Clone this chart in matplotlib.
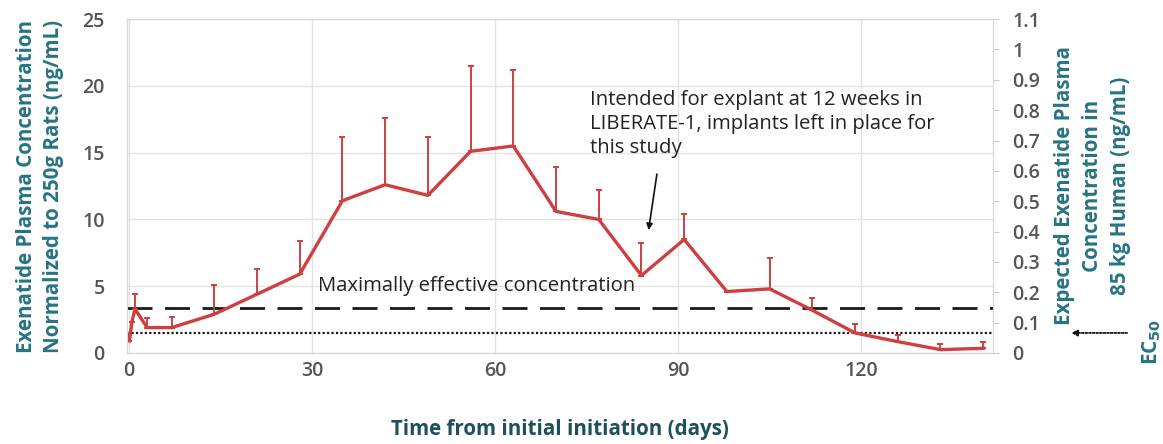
import matplotlib
matplotlib.use("Agg")
import matplotlib.pyplot as plt

plt.rcParams['font.family'] = ['Open Sans', 'DejaVu Sans']

days = [0.1, 0.5, 1, 3, 7, 14, 21, 28, 35, 42, 49, 56, 63, 70, 77, 84, 91, 98, 105, 112, 119, 126, 133, 140]
conc = [0.9, 2.3, 3.3, 1.9, 1.9, 2.9, 4.4, 5.9, 11.4, 12.6, 11.8, 15.1, 15.5, 10.6, 10.0, 5.8, 8.5, 4.6, 4.8, 3.2, 1.5, 0.85, 0.25, 0.35]
err_up = [0.6, 0.0, 1.1, 0.7, 0.8, 2.2, 1.9, 2.5, 4.8, 5.0, 4.4, 6.4, 5.7, 3.3, 2.2, 2.4, 1.9, 0.0, 2.3, 0.9, 0.7, 0.5, 0.45, 0.45]

max_effective = 3.4
ec50 = 1.5

x_ticks = [0, 30, 60, 90, 120]
y_ticks = [0, 5, 10, 15, 20, 25]
y2_ticks = [0, 0.1, 0.2, 0.3, 0.4, 0.5, 0.6, 0.7, 0.8, 0.9, 1.0, 1.1]
y2_labels = ['0', '0.1', '0.2', '0.3', '0.4', '0.5', '0.6', '0.7', '0.8', '0.9', '1', '1.1']

red = '#cf3f3f'
teal = '#267383'
dark_teal = '#1d4f5c'
gray = '#555555'

fs_tick = 14
fs_lab = 14.8
fs_txt = 14.6

fig = plt.figure(figsize=(11.63, 4.44), dpi=100)
ax = fig.add_axes([0.1092, 0.205, 0.7446, 0.752])

ax.set_xlim(-0.3, 141.6)
ax.set_ylim(0, 25)
ax.set_xticks(x_ticks)
ax.set_yticks(y_ticks)
ax.grid(True, color='#e3e3e3', linewidth=1.0)
ax.set_axisbelow(True)
for s in ax.spines.values():
    s.set_color('#d8d8d8')
ax.tick_params(axis='x', length=0, labelsize=fs_tick, labelcolor=gray, pad=6)
ax.tick_params(axis='y', length=0, labelsize=fs_tick, labelcolor=gray, pad=16)
for lab in ax.get_xticklabels() + ax.get_yticklabels():
    lab.set_fontweight('semibold')

ax.axhline(max_effective, color='#1a1a1a', lw=2.0, dashes=(9, 4.5), zorder=3)
ax.axhline(ec50, color='#1a1a1a', lw=1.6, linestyle=(0, (1, 1)), zorder=3)

ax.errorbar(days, conc, yerr=[[0] * len(err_up), err_up], color=red, lw=2.4,
            elinewidth=1.4, capsize=2.5, capthick=1.4, zorder=4)

ax.text(31, 4.3, 'Maximally effective concentration', fontsize=fs_txt, color='#222222',
        va='bottom', ha='left')
ax.text(75.6, 19.7, 'Intended for explant at 12 weeks in\nLIBERATE-1, implants left in place for\nthis study',
        fontsize=fs_txt, color='#222222', va='top', ha='left', linespacing=1.27)
ax.annotate('', xy=(85.1, 9.0), xytext=(86.6, 13.6),
            arrowprops=dict(arrowstyle='-|>', color='#111111', lw=1.2, mutation_scale=9))

ax.set_xlabel('Time from initial initiation (days)', fontsize=fs_lab, fontweight='bold',
              color=dark_teal, labelpad=27)
ax.set_ylabel('Exenatide Plasma Concentration\nNormalized to 250g Rats (ng/mL)', fontsize=fs_lab,
              fontweight='bold', color=teal, linespacing=1.4, labelpad=13)

ax2 = ax.twinx()
ax2.set_ylim(0, 1.1)
ax2.set_yticks(y2_ticks)
ax2.set_yticklabels(y2_labels)
ax2.tick_params(axis='y', length=4, color='#cccccc', labelsize=fs_tick, labelcolor=gray, pad=10)
for lab in ax2.get_yticklabels():
    lab.set_fontweight('semibold')
for s in ax2.spines.values():
    s.set_color('#d8d8d8')
ax2.set_ylabel('Expected Exenatide Plasma\nConcentration in\n85 kg Human (ng/mL)', fontsize=fs_lab,
               fontweight='bold', color=teal, linespacing=1.42, labelpad=10)

# EC50 marker outside the right axis
ax2.annotate('', xy=(1.087, ec50 / 25 * 1.1), xytext=(1.158, ec50 / 25 * 1.1),
             xycoords=('axes fraction', 'data'), textcoords=('axes fraction', 'data'),
             arrowprops=dict(arrowstyle='-|>', color='#111111', lw=1.3, linestyle=(0, (1, 1)),
                             mutation_scale=9), annotation_clip=False)
fig.text(0.990, 1 - 342 / 444, r'EC$_{\mathbf{50}}$', rotation=90, fontsize=fs_lab, fontweight='bold',
         color=teal, ha='center', va='center')

fig.savefig('out.png', dpi=100)
